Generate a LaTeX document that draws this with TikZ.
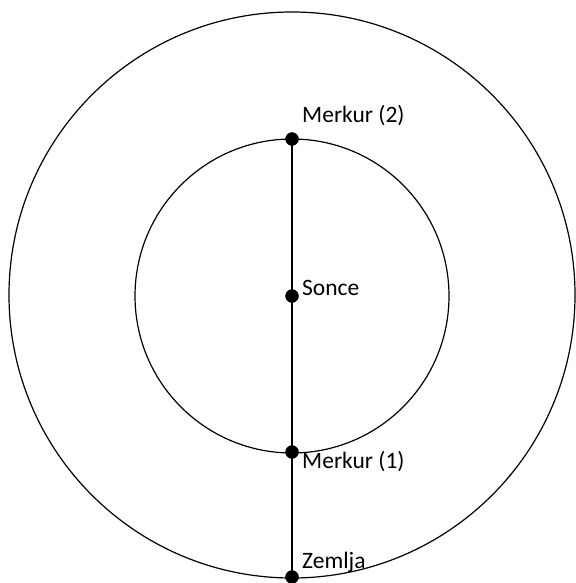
\documentclass[tikz,border=0pt]{standalone}
\usepackage{fontspec}
\setmainfont{Carlito}
\usepackage{tikz}
\usetikzlibrary{positioning}

\begin{document}
\begin{tikzpicture}[x=1pt, y=-1pt, line join=round, line cap=round]
\useasboundingbox (0,0) rectangle (575,583);
\tikzset{orbit/.style={line width=1.2pt, black},
         lbl/.style={anchor=base west, inner sep=0pt, font=\fontsize{23.5}{28}\selectfont}}

% points
\coordinate (sun) at (292,296);
\coordinate (m2) at (292,139);
\coordinate (m1) at (292,452);
\coordinate (earth) at (292,577);

% orbits
\draw[orbit] (292,295) circle (283);
\draw[orbit] (sun) circle (157);

% line of sight
\draw[orbit] (m2) -- (earth);

% dots
\filldraw[black] (m2) circle (6.5);
\filldraw[black] (sun) circle (6.5);
\filldraw[black] (m1) circle (6.5);
\filldraw[black] (earth) circle (6.5);

% labels
\node[lbl] (m2lbl) at (302,123) {Merkur (2)};
\node[lbl] (sunlbl) at (302,295) {Sonce};
\node[lbl] (m1lbl) at (302,468) {Merkur (1)};
\node[lbl] (earthlbl) at (302,568) {Zemlja};

\end{tikzpicture}
\end{document}
